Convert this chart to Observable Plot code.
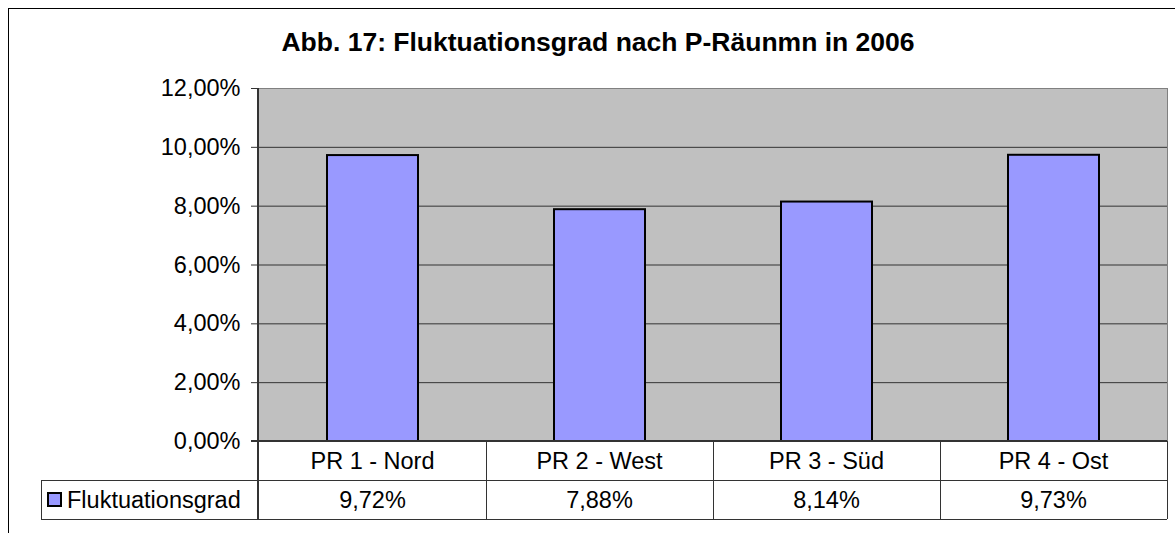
<!DOCTYPE html>
<html><head><meta charset="utf-8">
<script src="https://cdn.jsdelivr.net/npm/d3@7"></script>
<script src="https://cdn.jsdelivr.net/npm/@observablehq/plot@0.6"></script>
<style>body{margin:0;background:#fff;font-family:"Liberation Sans",Arial,sans-serif}</style>
</head><body><div id="chart"></div>
<script>
const title = "Abb. 17: Fluktuationsgrad nach P-Räunmn in 2006";
const categories = ["PR 1 - Nord", "PR 2 - West", "PR 3 - Süd", "PR 4 - Ost"];
const values = [0.0972, 0.0788, 0.0814, 0.0973];
const seriesName = "Fluktuationsgrad";
const yTicks = [0, 0.02, 0.04, 0.06, 0.08, 0.10, 0.12];
const gridTicks = [0, 0.02, 0.04, 0.06, 0.08, 0.10];

const data = categories.map((c, i) => ({category: c, value: values[i]}));
const fmt = d => (d * 100).toFixed(2).replace(".", ",") + "%";
const FONT = "Liberation Sans, Arial, sans-serif";
const FS = 23.5;

const W = 1175, H = 533;
const plot = Plot.plot({
  width: W, height: H,
  marginLeft: 258, marginRight: 8, marginTop: 88, marginBottom: 92,
  style: {fontFamily: FONT, fontSize: FS + "px", background: "transparent", color: "#000", overflow: "visible"},
  x: {domain: categories, paddingInner: 0.6, paddingOuter: 0.3, axis: null},
  y: {domain: [0, 0.12], axis: null},
  marks: [
    Plot.frame({fill: "#C0C0C0", stroke: "#808080"}),
    Plot.gridY(gridTicks, {stroke: "#333", strokeOpacity: 1}),
    Plot.barY(data, {x: "category", y: "value", fill: "#9999FF", stroke: "#000", strokeWidth: 2}),
    Plot.axisY(yTicks, {tickFormat: fmt, tickSize: 7, tickPadding: 11, fontSize: FS, stroke: "#333", fill: "#000", label: null})
  ]
});

const svg = d3.select(plot);
const xs = plot.scale("x"), ys = plot.scale("y");
const step = xs.step, bw = xs.bandwidth;
const xL = xs.range[0], xR = xs.range[1];
const y0 = ys.apply(0), yTop = ys.apply(0.12);
const rowH = 39;
const legendLeft = 41;
const lineColor = "#333";

// outer chart frame
svg.insert("rect", ":first-child")
  .attr("x", 8.5).attr("y", 8.5).attr("width", W).attr("height", H)
  .attr("fill", "#fff").attr("stroke", "#000").attr("stroke-width", 1);

// title
svg.append("text").attr("x", 598).attr("y", 51)
  .attr("text-anchor", "middle").attr("font-family", FONT)
  .attr("font-weight", "bold").attr("font-size", 26.5).text(title);

const g = svg.append("g").attr("font-family", FONT).attr("font-size", FS);

const cellLeft = c => xs.apply(c) + bw / 2 - step / 2;
// horizontal lines
[[xL, y0 + rowH], [legendLeft, y0 + 2 * rowH]].forEach(([x, y]) => {
  g.append("line").attr("x1", x).attr("x2", xR).attr("y1", y + 0.5).attr("y2", y + 0.5)
    .attr("stroke", lineColor);
});
g.append("line").attr("x1", legendLeft).attr("x2", xL).attr("y1", y0 + rowH + 0.5).attr("y2", y0 + rowH + 0.5)
  .attr("stroke", lineColor);
// vertical lines
categories.forEach(c => {
  const xr = cellLeft(c) + step;
  g.append("line").attr("x1", Math.round(xr) + 0.5).attr("x2", Math.round(xr) + 0.5)
    .attr("y1", y0).attr("y2", y0 + 2 * rowH).attr("stroke", lineColor);
});
g.append("line").attr("x1", legendLeft + 0.5).attr("x2", legendLeft + 0.5)
  .attr("y1", y0 + rowH).attr("y2", y0 + 2 * rowH).attr("stroke", lineColor);
// left axis line
g.append("line").attr("x1", xL).attr("x2", xL).attr("y1", yTop).attr("y2", y0 + 2 * rowH)
  .attr("stroke", lineColor).attr("stroke-width", 2);
// baseline
g.append("line").attr("x1", xL - 7).attr("x2", xR).attr("y1", y0).attr("y2", y0)
  .attr("stroke", lineColor).attr("stroke-width", 2);

// category labels and values
categories.forEach((c, i) => {
  const cx = xs.apply(c) + bw / 2;
  g.append("text").attr("x", cx).attr("y", y0 + rowH / 2).attr("dy", "0.35em")
    .attr("text-anchor", "middle").text(c);
  g.append("text").attr("x", cx).attr("y", y0 + rowH * 1.5).attr("dy", "0.35em")
    .attr("text-anchor", "middle").text(fmt(values[i]));
});
// legend cell
g.append("rect").attr("x", 48).attr("y", y0 + rowH * 1.5 - 6.5).attr("width", 13).attr("height", 13)
  .attr("fill", "#9999FF").attr("stroke", "#000").attr("stroke-width", 2);
g.append("text").attr("x", 67).attr("y", y0 + rowH * 1.5).attr("dy", "0.35em")
  .attr("text-anchor", "start").text(seriesName);

document.getElementById("chart").appendChild(plot);
</script>
</body></html>
